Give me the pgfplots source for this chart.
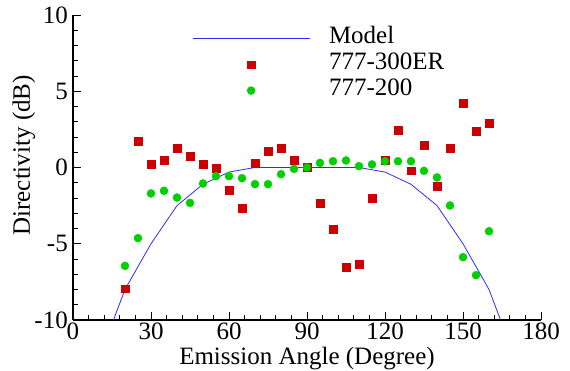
\documentclass[border=0pt]{standalone}
\usepackage{fontspec}
\setmainfont{Liberation Serif}
\usepackage{pgfplots}
\pgfplotsset{compat=1.18}

\definecolor{modelblue}{RGB}{45,45,255}
\definecolor{erred}{RGB}{204,0,0}
\definecolor{twogreen}{RGB}{0,208,0}

\newcommand{\bigfont}{\fontsize{25}{29}\selectfont}

% legend samples: a long line, and a single mark centred on the same span
\pgfplotsset{
  lineleg/.style={legend image code/.code={\draw[##1] (0pt,0pt) -- (117pt,0pt);}},
  markleg/.style={legend image code/.code={\draw[mark repeat=2,mark phase=2,##1]
      plot coordinates {(0pt,0pt) (58.5pt,0pt) (117pt,0pt)};}},
}

\begin{document}
\begin{tikzpicture}
\begin{axis}[
  scale only axis,
  width=468pt, height=305pt,
  xmin=0, xmax=180, ymin=-10, ymax=10,
  axis x line*=bottom, axis y line*=left,
  axis line style={line width=1.5pt, -},
  tick align=inside,
  xtick={0,30,...,180}, xticklabels={0,30,60,90,120,150,180},
  ytick={-10,-5,0,5,10}, yticklabels={-10,-5,0,5,10},
  minor x tick num=4, minor y tick num=4,
  major tick length=8pt, minor tick length=5pt,
  every tick/.style={black, line width=0.9pt},
  tick label style={font=\bigfont},
  xticklabel style={inner ysep=3pt},
  yticklabel style={inner xsep=5pt},
  xlabel={Emission Angle (Degree)},
  ylabel={Directivity (dB)},
  label style={font=\bigfont},
  xlabel style={at={(axis description cs:0.5,-0.087)}, anchor=north, inner sep=0pt},
  ylabel style={at={(axis description cs:-0.105,0.54)}, anchor=center, inner sep=0pt},
  legend cell align=left,
  legend style={
    at={(axis description cs:0.2543,0.966)}, anchor=north west,
    draw=none, fill=none, inner sep=0pt, font=\bigfont,
    nodes={inner sep=0pt, text height=18pt, text depth=8pt},
    /tikz/every odd column/.append style={column sep=19pt},
  },
]
% analytic model
\addplot[modelblue, line width=0.8pt, lineleg]
  coordinates {
  (10,-12.5) (20,-8) (30,-5) (40,-2.5) (50,-1.1) (60,-0.3) (70,0)
  (80,0) (90,0) (100,0) (110,0) (120,-0.3) (130,-1.1) (140,-2.5)
  (150,-5) (160,-8) (170,-12.5)};
\addlegendentry{Model}

% 777-300ER measurements
\addplot[only marks, mark=square*, mark size=3.8pt, color=erred, markleg]
  table {
  x y
  20 -7.96
  25 1.72
  30 0.22
  35 0.48
  40 1.27
  45 0.74
  50 0.22
  55 -0.04
  60 -1.49
  65 -2.67
  70 0.28
  75 1.07
  80 1.27
  85 0.48
  90 0.0
  95 -2.34
  100 -4.04
  105 -6.54
  110 -6.36
  115 -2.03
  120 0.48
  125 2.45
  130 -0.2
  135 1.46
  140 -1.22
  145 1.27
  150 4.22
  155 2.38
  160 2.9
  };
\addlegendentry{777-300ER}

% 777-200 measurements
\addplot[only marks, mark=*, mark size=4pt, color=twogreen, markleg]
  table {
  x y
  20 -6.45
  25 -4.63
  30 -1.70
  35 -1.53
  40 -1.97
  45 -2.32
  50 -1.05
  55 -0.57
  60 -0.57
  65 -0.70
  70 -1.09
  75 -1.09
  80 -0.44
  85 -0.09
  90 0.0
  95 0.3
  100 0.41
  105 0.46
  110 0.09
  115 0.2
  120 0.41
  125 0.41
  130 0.41
  135 -0.22
  140 -0.65
  145 -2.49
  150 -5.88
  155 -7.06
  160 -4.18
  };
\addlegendentry{777-200}
\end{axis}
\pgfresetboundingbox
\path ([xshift=-73pt,yshift=-51pt]current axis.south west) rectangle ++(570pt,371pt);
\end{tikzpicture}
\end{document}
